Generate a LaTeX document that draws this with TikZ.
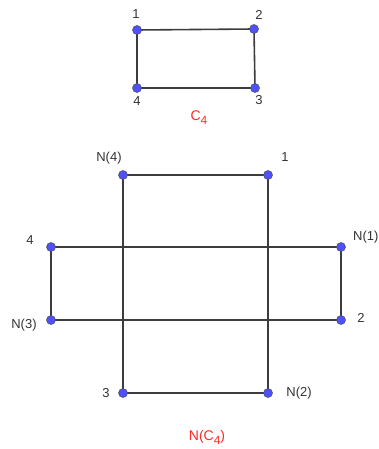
\documentclass[tikz,border=0pt]{standalone}
\usepackage{fontspec}
\setmainfont{Liberation Sans}
\definecolor{dotblue}{RGB}{80,80,255}
\definecolor{edgegray}{RGB}{60,60,60}
\definecolor{lblred}{RGB}{255,40,40}
\newcommand{\mysub}[1]{\raisebox{-4pt}{\fontsize{12}{14}\selectfont #1}}
\begin{document}
\begin{tikzpicture}[x=1pt,y=-1pt,
  vtx/.style={circle,fill=dotblue,draw=black!70,line width=0.5pt,inner sep=0pt,minimum size=9pt},
  edge/.style={draw=edgegray,line width=1.6pt},
  lbl/.style={font=\fontsize{13}{15}\selectfont,text=black!80,inner sep=0pt},
  title/.style={font=\fontsize{14}{16}\selectfont,text=lblred,inner sep=0pt}]
\useasboundingbox (0,0) rectangle (379,449);
% small C4
\coordinate (a1) at (137,30);
\coordinate (a2) at (254,29);
\coordinate (a3) at (255,88);
\coordinate (a4) at (137,88);
\draw[edge] (a1) -- (a2) -- (a3) -- (a4) -- cycle;
\foreach \p in {a1,a2,a3,a4} \node[vtx] at (\p) {};
\node[lbl] (l1) at (136,14) {1};
\node[lbl] (l2) at (259,15) {2};
\node[lbl] (l3) at (259,100) {3};
\node[lbl] (l4) at (137,101) {4};
\node[title] (c4) at (199,118) {C\mysub{4}};
% N(C4)
\coordinate (n4) at (123,175);
\coordinate (b1) at (268,175);
\coordinate (b4) at (51,247);
\coordinate (n1) at (341,247);
\coordinate (n3) at (51,320);
\coordinate (b2) at (341,320);
\coordinate (b3) at (123,393);
\coordinate (n2) at (268,393);
\draw[edge] (n4) -- (b1) -- (n2) -- (b3) -- cycle;
\draw[edge] (b4) -- (n1) -- (b2) -- (n3) -- cycle;
\foreach \p in {n4,b1,b4,n1,n3,b2,b3,n2} \node[vtx] at (\p) {};
\node[lbl] (ln4) at (109,158) {N(4)};
\node[lbl] (lb1) at (285,157) {1};
\node[lbl] (lb4) at (30,240) {4};
\node[lbl,anchor=west] (ln1) at (353,237) {N(1)};
\node[lbl] (ln3) at (24,325) {N(3)};
\node[lbl] (lb2) at (361,318) {2};
\node[lbl] (lb3) at (106,393) {3};
\node[lbl] (ln2) at (299,393) {N(2)};
\node[title] (nc4) at (207,437) {N(C\mysub{4})};
\end{tikzpicture}
\end{document}
